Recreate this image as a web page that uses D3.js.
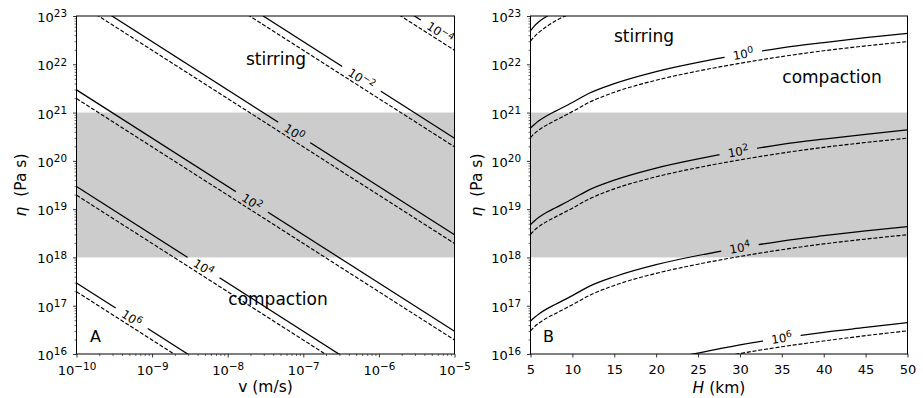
<!DOCTYPE html>
<html>
<head>
<meta charset="utf-8">
<script src="https://cdn.jsdelivr.net/npm/d3@7"></script>
<style>
  body { margin: 0; background: #fff; }
  text { font-family: "DejaVu Sans", sans-serif; }
</style>
</head>
<body>
<div class="canvas"></div>
<script>
// ---- data ----
const etaDomain = [1e16, 1e23];
const etaBand = [1e18, 1e21];              // shaded band
const etaTickExp = [16, 17, 18, 19, 20, 21, 22, 23];
const vDomain = [1e-10, 1e-5];
const vTickExp = [-10, -9, -8, -7, -6, -5];
const hDomain = [5, 50];
const hTicks = [5, 10, 15, 20, 25, 30, 35, 40, 45, 50];

// panel A: contour exponents, log10(eta) where each line meets v = 1e-10 and v = 1e-5
const contoursA = ["\u22124", "\u22122", "0", "2", "4", "6"];
const solidA_left   = [27.47, 25.47, 23.47, 21.47, 19.47, 17.47];
const solidA_right  = [22.47, 20.47, 18.47, 16.47, 14.47, 12.47];
const dashedA_left  = [27.29, 25.29, 23.29, 21.29, 19.29, 17.29];
const dashedA_right = [22.29, 20.29, 18.29, 16.29, 14.29, 12.29];
const labelA_logv = [-5.19, -6.23, -7.12, -7.68, -8.32, -9.27];

// panel B: log10(eta) along H (km)
const hPoints = [5, 5.5, 6, 7, 8, 10, 12, 15, 20, 25, 30, 35, 40, 45, 50];
const contoursB = ["\u22122", "0", "2", "4", "6"];
const solidB = [
  [22.69, 22.80, 22.88, 23.00, 23.09, 23.27, 23.45, 23.65, 23.88, 24.06, 24.21, 24.35, 24.46, 24.56, 24.65],
  [20.68, 20.76, 20.83, 20.94, 21.03, 21.21, 21.40, 21.60, 21.85, 22.04, 22.20, 22.34, 22.45, 22.55, 22.64],
  [18.68, 18.76, 18.83, 18.94, 19.03, 19.21, 19.40, 19.60, 19.85, 20.04, 20.20, 20.34, 20.45, 20.55, 20.64],
  [16.68, 16.76, 16.83, 16.94, 17.03, 17.21, 17.40, 17.60, 17.85, 18.04, 18.20, 18.34, 18.45, 18.55, 18.64],
  [14.66, 14.74, 14.81, 14.92, 15.01, 15.19, 15.38, 15.58, 15.83, 16.02, 16.19, 16.33, 16.45, 16.55, 16.65]
];
const dashedB = [
  [22.48, 22.58, 22.66, 22.79, 22.90, 23.07, 23.25, 23.46, 23.70, 23.88, 24.03, 24.17, 24.29, 24.39, 24.48],
  [20.48, 20.57, 20.64, 20.75, 20.84, 21.02, 21.21, 21.42, 21.67, 21.86, 22.02, 22.16, 22.28, 22.38, 22.47],
  [18.48, 18.57, 18.64, 18.75, 18.84, 19.02, 19.21, 19.42, 19.67, 19.86, 20.02, 20.16, 20.28, 20.38, 20.47],
  [16.48, 16.57, 16.64, 16.75, 16.84, 17.02, 17.21, 17.42, 17.67, 17.86, 18.02, 18.16, 18.28, 18.38, 18.47],
  [14.46, 14.55, 14.62, 14.73, 14.82, 15.00, 15.19, 15.40, 15.65, 15.84, 16.01, 16.15, 16.27, 16.38, 16.48]
];
const labelB_h = [null, 30.4, 29.8, 30.0, 35];

// ---- drawing ----
const svg = d3.select(".canvas")
  .append("svg")
  .attr("width", 923)
  .attr("height", 398);
const defs = svg.append("defs");

const plotTop = 16, plotBottom = 354;
const y = d3.scaleLog().domain(etaDomain).range([plotBottom, plotTop]);
const xA = d3.scaleLog().domain(vDomain).range([76.5, 454.5]);
const xB = d3.scaleLinear().domain(hDomain).range([530.5, 907.5]);
const e10 = e => Math.pow(10, e);

function makePanel(id, xr) {
  defs.append("clipPath").attr("id", "clip" + id)
    .append("rect")
    .attr("x", xr[0]).attr("y", plotTop)
    .attr("width", xr[1] - xr[0]).attr("height", plotBottom - plotTop);
  const mask = defs.append("mask").attr("id", "mask" + id)
    .attr("maskUnits", "userSpaceOnUse")
    .attr("x", 0).attr("y", 0).attr("width", 923).attr("height", 398);
  mask.append("rect").attr("width", 923).attr("height", 398).attr("fill", "white");

  const g = svg.append("g");
  g.append("rect")
    .attr("x", xr[0]).attr("y", y(etaBand[1]))
    .attr("width", xr[1] - xr[0])
    .attr("height", y(etaBand[0]) - y(etaBand[1]))
    .attr("fill", "#cccccc");
  const lines = g.append("g").attr("clip-path", `url(#clip${id})`).attr("fill", "none");
  const dashed = lines.append("g")
    .attr("stroke", "black").attr("stroke-width", 1.15).attr("stroke-dasharray", "4,1.8");
  const solid = lines.append("g").attr("mask", `url(#mask${id})`)
    .attr("stroke", "black").attr("stroke-width", 1.25);
  const labels = g.append("g");
  return {g, dashed, solid, labels, mask, xr};
}

function pointAtX(node, px) {
  let lo = 0, hi = node.getTotalLength();
  for (let i = 0; i < 40; i++) {
    const mid = (lo + hi) / 2;
    if (node.getPointAtLength(mid).x < px) lo = mid; else hi = mid;
  }
  const p = node.getPointAtLength(lo);
  const a = node.getPointAtLength(Math.max(0, lo - 3));
  const b = node.getPointAtLength(lo + 3);
  return {x: p.x, y: p.y, angle: Math.atan2(b.y - a.y, b.x - a.x) * 180 / Math.PI};
}

function addLabel(p, node, px, exp) {
  const pt = pointAtX(node, px);
  const tr = `translate(${pt.x},${pt.y}) rotate(${pt.angle})`;
  const t = p.labels.append("text")
    .attr("transform", tr)
    .attr("text-anchor", "middle")
    .attr("y", 4.3)
    .attr("font-size", 11.8);
  t.append("tspan").text("10");
  t.append("tspan").attr("dy", "-0.45em").attr("font-size", "9.4px").text(exp);
  const w = t.node().getComputedTextLength();
  p.mask.append("rect")
    .attr("transform", tr)
    .attr("x", -w / 2 - 8.5).attr("y", -6)
    .attr("width", w + 17).attr("height", 12)
    .attr("fill", "black");
}

function supLabel(sel, exp, supSize) {
  sel.text(null);
  sel.append("tspan").text("10");
  sel.append("tspan").attr("dy", "-0.45em").attr("font-size", supSize).text(exp);
}

function drawYAxis(xr) {
  const minors = [];
  etaTickExp.slice(0, -1).forEach(e => { for (let k = 2; k < 10; k++) minors.push(k * e10(e)); });
  svg.append("g").attr("transform", `translate(${xr[0]},0)`)
    .call(d3.axisLeft(y).tickValues(minors).tickSize(2).tickFormat(() => ""))
    .call(a => a.select(".domain").remove())
    .selectAll("line").attr("stroke-width", 0.6);
  const ya = svg.append("g").attr("transform", `translate(${xr[0]},0)`)
    .call(d3.axisLeft(y).tickValues(etaTickExp.map(e10)).tickSize(3.5).tickPadding(6).tickFormat(() => ""));
  ya.attr("font-family", null).attr("font-size", 13);
  ya.select(".domain").remove();
  ya.selectAll("line").attr("stroke-width", 0.8);
  ya.selectAll(".tick text").attr("dy", "0.42em")
    .each(function(d) { supLabel(d3.select(this), String(Math.round(Math.log10(d))), "10.4px"); });
}

function drawFrame(xr) {
  svg.append("rect")
    .attr("x", xr[0]).attr("y", plotTop)
    .attr("width", xr[1] - xr[0]).attr("height", plotBottom - plotTop)
    .attr("fill", "none").attr("stroke", "black").attr("stroke-width", 1);
}

// ---- panel A ----
const pA = makePanel("A", xA.range());
const lineA = d3.line().x(d => xA(d[0])).y(d => y(d[1]));
contoursA.forEach((c, i) => {
  pA.dashed.append("path")
    .attr("d", lineA([[vDomain[0], e10(dashedA_left[i])], [vDomain[1], e10(dashedA_right[i])]]));
  const sp = pA.solid.append("path")
    .attr("d", lineA([[vDomain[0], e10(solidA_left[i])], [vDomain[1], e10(solidA_right[i])]]));
  addLabel(pA, sp.node(), xA(e10(labelA_logv[i])), c);
});

// ---- panel B ----
const pB = makePanel("B", xB.range());
const lineB = d3.line().x(d => xB(d[0])).y(d => y(d[1])).curve(d3.curveMonotoneX);
contoursB.forEach((c, i) => {
  pB.dashed.append("path").attr("d", lineB(hPoints.map((h, j) => [h, e10(dashedB[i][j])])));
  const sp = pB.solid.append("path").attr("d", lineB(hPoints.map((h, j) => [h, e10(solidB[i][j])])));
  if (labelB_h[i] !== null) addLabel(pB, sp.node(), xB(labelB_h[i]), c);
});

// ---- axes ----
drawFrame(xA.range());
drawFrame(xB.range());
drawYAxis(xA.range());
drawYAxis(xB.range());

// x axis A (log)
const minorsV = [];
vTickExp.slice(0, -1).forEach(e => { for (let k = 2; k < 10; k++) minorsV.push(k * e10(e)); });
svg.append("g").attr("transform", `translate(0,${plotBottom})`)
  .call(d3.axisBottom(xA).tickValues(minorsV).tickSize(2).tickFormat(() => ""))
  .call(a => a.select(".domain").remove())
  .selectAll("line").attr("stroke-width", 0.6);
const xaA = svg.append("g").attr("transform", `translate(0,${plotBottom})`)
  .call(d3.axisBottom(xA).tickValues(vTickExp.map(e10)).tickSize(3.5).tickFormat(() => ""));
xaA.attr("font-family", null).attr("font-size", 13);
xaA.select(".domain").remove();
xaA.selectAll("line").attr("stroke-width", 0.8);
xaA.selectAll(".tick text").attr("y", 20.5).attr("dy", null)
  .each(function(d) {
    const e = Math.round(Math.log10(d));
    supLabel(d3.select(this), (e < 0 ? "\u2212" : "") + Math.abs(e), "10.4px");
  });

// x axis B (linear)
const xaB = svg.append("g").attr("transform", `translate(0,${plotBottom})`)
  .call(d3.axisBottom(xB).tickValues(hTicks).tickSize(3.5).tickFormat(d3.format("d")));
xaB.attr("font-family", null).attr("font-size", 13);
xaB.select(".domain").remove();
xaB.selectAll("line").attr("stroke-width", 0.8);
xaB.selectAll(".tick text").attr("y", 19.5).attr("dy", null);

// ---- axis titles ----
[26, 481.5].forEach(lx => {
  const t = svg.append("text")
    .attr("transform", `translate(${lx},185) rotate(-90)`)
    .attr("text-anchor", "middle")
    .attr("font-size", 15.5);
  t.append("tspan").attr("font-style", "italic").text("\u03b7");
  t.append("tspan").text("\u00a0\u00a0(Pa s)");
});

svg.append("text").attr("x", 265.5).attr("y", 392).attr("text-anchor", "middle")
  .attr("font-size", 15.5).text("v (m/s)");
const hl = svg.append("text").attr("x", 719).attr("y", 393).attr("text-anchor", "middle")
  .attr("font-size", 15.5);
hl.append("tspan").attr("font-style", "italic").text("H");
hl.append("tspan").text(" (km)");

// ---- region annotations ----
const notes = [
  ["stirring", 276, 65], ["compaction", 278, 305],
  ["stirring", 644, 41.5], ["compaction", 832, 82.5]
];
notes.forEach(([s, nx, ny]) => {
  svg.append("text").attr("x", nx).attr("y", ny).attr("text-anchor", "middle")
    .attr("font-size", 17).text(s);
});

svg.append("text").attr("x", 90).attr("y", 341.5).attr("font-size", 16).text("A");
svg.append("text").attr("x", 543).attr("y", 341.5).attr("font-size", 16).text("B");
</script>
</body>
</html>
